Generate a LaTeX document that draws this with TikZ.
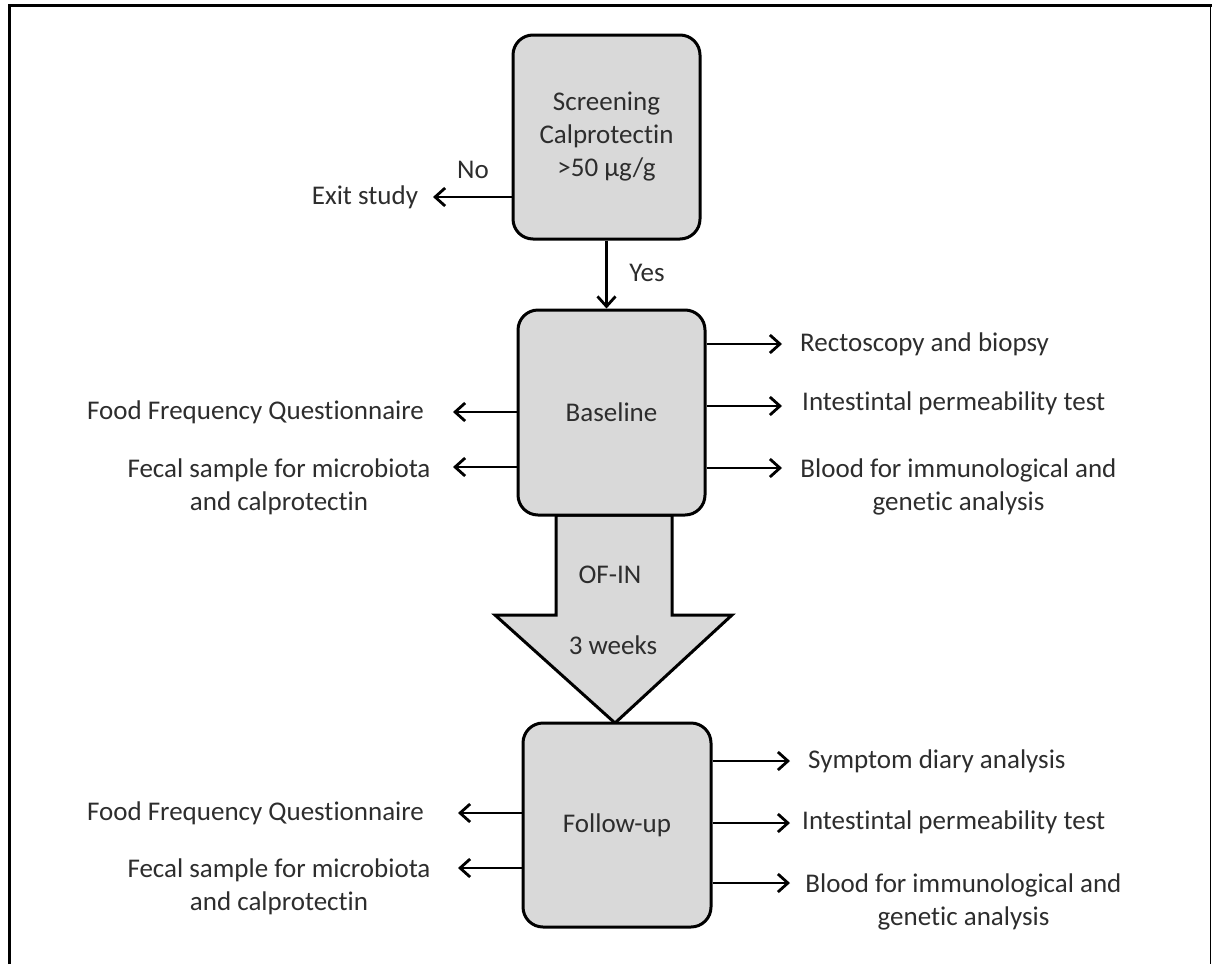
\documentclass[tikz,border=0pt]{standalone}
\usepackage{fontspec}
\setmainfont{Carlito}[Ligatures={NoCommon}]
\usetikzlibrary{arrows.meta,calc}
\definecolor{boxfill}{HTML}{D9D9D9}
\definecolor{txtcol}{RGB}{45,45,45}
\begin{document}
\begin{tikzpicture}[x=1pt,y=-1pt,
  stagebox/.style={draw=black, line width=3pt, fill=boxfill, rounded corners=20pt,
    minimum width=187pt, minimum height=204pt, inner sep=0pt, align=center,
    text=txtcol, font=\fontsize{27}{33}\selectfont},
  txt/.style={inner sep=0pt, align=center, text=txtcol, font=\fontsize{27}{33}\selectfont},
  arr/.style={line width=2.8pt, -{Straight Barb[length=10pt,width=18pt,line width=2.8pt]}},
  bigarrow/.style={draw=black, line width=3pt, fill=boxfill, line join=miter}
]
\useasboundingbox (0,0) rectangle (1212,964);
% frame
\draw[line width=3pt] (9.5,964) -- (9.5,5) -- (1212,5);
\draw[line width=1.6pt] (1210.5,5) -- (1210.5,964);

% big arrow (drawn first, box on top)
\draw[bigarrow] (556,515) -- (672,515) -- (672,615) -- (732,615) -- (615,723) -- (495,615) -- (556,615) -- cycle;
\node[txt] (ofin) at (610,575) {OF-IN};
\node[txt] (weeks) at (613,645) {3 weeks};

% stage boxes
\node[stagebox] (scr) at (606.5,137) {Screening\\Calprotectin\\>50 µg/g};
\node[stagebox, minimum height=205pt] (base) at (611.5,412.5) {Baseline};
\node[stagebox, minimum width=188pt] (fu) at (617,825) {Follow-up};

% screening
\node[txt] (exit) at (365,197) {Exit study};
\coordinate (exitend) at (433,197);
\draw[arr] (scr.west |- exitend) -- (exitend);
\node[txt] (no) at (473,170) {No};
\draw[arr] (scr.south) -- (scr.south |- base.north);
\node[txt] (yes) at (647,273) {Yes};

% baseline left
\coordinate (bL1) at (453,412);
\coordinate (bL2) at (453,467);
\node[txt] (bffq) at (255.5,412) {Food Frequency Questionnaire};
\node[txt] (bfecal) at (279,486.5) {Fecal sample for microbiota\\and calprotectin};
\draw[arr] (base.west |- bL1) -- (bL1);
\draw[arr] (base.west |- bL2) -- (bL2);

% baseline right
\coordinate (bR1) at (782,344);
\coordinate (bR2) at (782,406);
\coordinate (bR3) at (782,468);
\node[txt, anchor=west] (brect) at (800,344) {Rectoscopy and biopsy};
\node[txt, anchor=west] (bperm) at (802,403) {Intestintal permeability test};
\node[txt] (bblood) at (958.5,486.5) {Blood for immunological and\\genetic analysis};
\draw[arr] (base.east |- bR1) -- (bR1);
\draw[arr] (base.east |- bR2) -- (bR2);
\draw[arr] (base.east |- bR3) -- (bR3);

% follow-up left
\coordinate (fL1) at (458,813);
\coordinate (fL2) at (458,868);
\node[txt] (fffq) at (255.5,813) {Food Frequency Questionnaire};
\node[txt] (ffecal) at (279,886.5) {Fecal sample for microbiota\\and calprotectin};
\draw[arr] (fu.west |- fL1) -- (fL1);
\draw[arr] (fu.west |- fL2) -- (fL2);

% follow-up right
\coordinate (fR1) at (790,761);
\coordinate (fR2) at (790,823);
\coordinate (fR3) at (790,883);
\node[txt, anchor=west] (fsym) at (808,761) {Symptom diary analysis};
\node[txt, anchor=west] (fperm) at (802,822) {Intestintal permeability test};
\node[txt] (fblood) at (963.5,901.5) {Blood for immunological and\\genetic analysis};
\draw[arr] (fu.east |- fR1) -- (fR1);
\draw[arr] (fu.east |- fR2) -- (fR2);
\draw[arr] (fu.east |- fR3) -- (fR3);
\end{tikzpicture}
\end{document}
